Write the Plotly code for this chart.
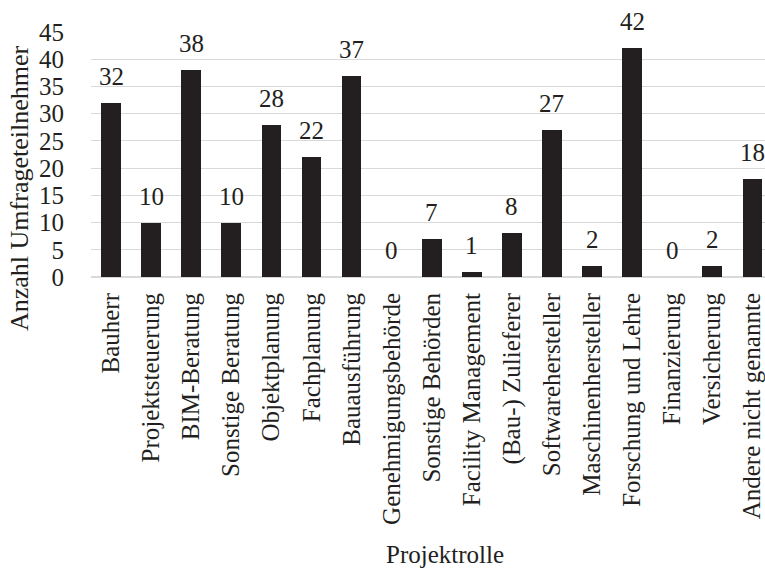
import plotly.graph_objects as go

# Projektrollen der Umfrageteilnehmer
rollen = [
    "Bauherr", "Projektsteuerung", "BIM-Beratung", "Sonstige Beratung",
    "Objektplanung", "Fachplanung", "Bauausführung", "Genehmigungsbehörde",
    "Sonstige Behörden", "Facility Management", "(Bau-) Zulieferer",
    "Softwarehersteller", "Maschinenhersteller", "Forschung und Lehre",
    "Finanzierung", "Versicherung", "Andere nicht genannte",
]
anzahl = [32, 10, 38, 10, 28, 22, 37, 0, 7, 1, 8, 27, 2, 42, 0, 2, 18]
y_ticks = [0, 5, 10, 15, 20, 25, 30, 35, 40, 45]

FONT = "Liberation Serif, Times New Roman, serif"
INK = "#231f20"
FS = 25

W, H = 765, 572
L, T, B = 91, 32, 295
cat_w = 40.08
plot_w = W - L
plot_h = H - T - B

fig = go.Figure()
fig.add_trace(go.Bar(
    x=list(range(len(rollen))),
    y=anzahl,
    width=0.49,
    marker=dict(color=INK, line=dict(width=0)),
    hoverinfo="x+y",
))

# value labels above each bar
for i, v in enumerate(anzahl):
    fig.add_annotation(
        x=i, y=v, xref="x", yref="y",
        text=str(v), showarrow=False,
        yanchor="bottom", yshift=11,
        font=dict(family=FONT, size=FS, color=INK),
    )

# axis titles
fig.add_annotation(
    x=(19 - L) / plot_w, y=(H - B - 189) / plot_h,
    xref="paper", yref="paper", text="Anzahl Umfrageteilnehmer",
    textangle=-90, showarrow=False, xanchor="center", yanchor="middle",
    font=dict(family=FONT, size=26, color=INK),
)
fig.add_annotation(
    x=(445 - L) / plot_w, y=(H - B - 570) / plot_h,
    xref="paper", yref="paper", text="Projektrolle",
    showarrow=False, xanchor="center", yanchor="bottom",
    font=dict(family=FONT, size=FS, color=INK),
)

fig.update_layout(
    width=W, height=H,
    margin=dict(l=L, r=0, t=T, b=B, autoexpand=False),
    paper_bgcolor="white", plot_bgcolor="white",
    showlegend=False,
    font=dict(family=FONT, size=FS, color=INK),
    bargap=0,
)
fig.update_xaxes(
    tickmode="array",
    tickvals=list(range(len(rollen))),
    ticktext=rollen,
    tickangle=-90,
    range=[-0.5, -0.5 + plot_w / cat_w],
    showgrid=False, zeroline=False, showline=False,
    ticks="outside", ticklen=5, tickcolor="rgba(0,0,0,0)",
    tickfont=dict(family=FONT, size=FS, color=INK),
    ticklabeloverflow="allow",
    automargin=False,
)
fig.update_yaxes(
    range=[0, 45],
    tickmode="array", tickvals=y_ticks,
    showgrid=True, gridcolor="#d9d9d9", gridwidth=1.3,
    zeroline=True, zerolinecolor="#d9d9d9", zerolinewidth=1.5,
    showline=False,
    ticks="outside", ticklen=21, tickcolor="rgba(0,0,0,0)",
    tickfont=dict(family=FONT, size=FS, color=INK),
    ticklabeloverflow="allow",
    automargin=False,
)

fig.write_html("out.html")
